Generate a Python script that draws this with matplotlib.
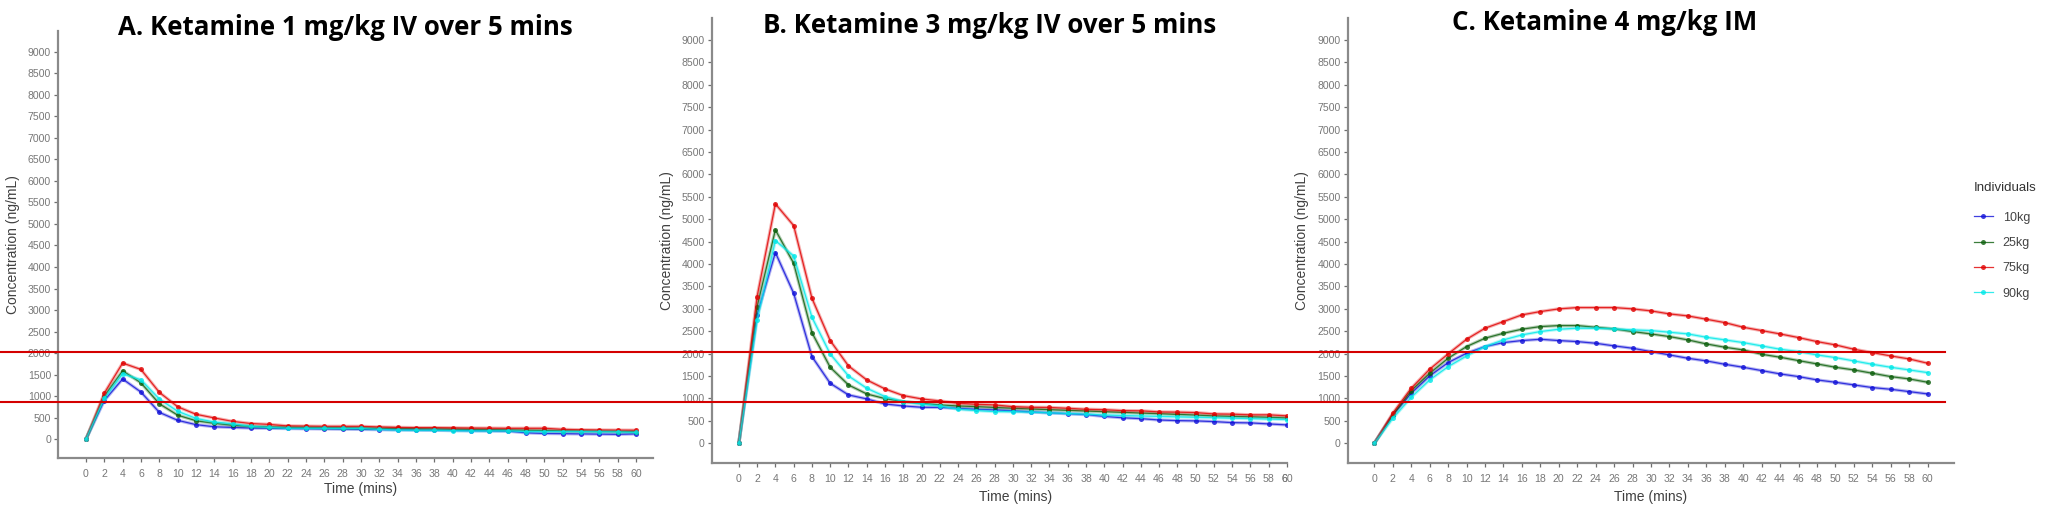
import numpy as np
import matplotlib
matplotlib.use("Agg")
import matplotlib.pyplot as plt
from matplotlib.lines import Line2D
from matplotlib.transforms import Bbox, TransformedBbox

plt.rcParams['font.family'] = ['Liberation Sans', 'DejaVu Sans']

# --- data ---
time = np.arange(0, 61, 2)
groups = ["10kg", "25kg", "75kg", "90kg"]
colours = ["#1010d8", "#0b5e0b", "#e00000", "#00e8e8"]

# A. 1 mg/kg IV
a_10 = [0, 900, 1400, 1096, 625, 440, 340, 290, 275, 260, 255, 250, 245, 240, 235, 230,
        225, 220, 215, 210, 205, 200, 195, 190, 150, 135, 130, 125, 120, 115, 125]
a_25 = [0, 1000, 1590, 1310, 825, 560, 430, 370, 325, 300, 285, 280, 275, 270, 265, 260,
        255, 250, 245, 240, 235, 230, 225, 220, 210, 205, 195, 190, 185, 180, 175]
a_75 = [0, 1070, 1770, 1620, 1090, 755, 580, 495, 415, 365, 345, 310, 305, 300, 300, 300,
        285, 275, 270, 270, 265, 260, 258, 255, 255, 255, 230, 220, 215, 212, 210]
a_90 = [0, 950, 1520, 1380, 935, 650, 485, 400, 360, 300, 275, 255, 255, 255, 250, 250,
        230, 215, 210, 210, 200, 195, 195, 195, 180, 180, 180, 178, 175, 172, 160]

# B. 3 mg/kg IV
b_10 = [0, 2865, 4256, 3348, 1935, 1339, 1079, 990, 878, 833, 804, 800, 781, 759, 745, 725,
        700, 680, 660, 640, 600, 570, 550, 520, 506, 500, 484, 461, 455, 432, 410]
b_25 = [0, 3050, 4762, 4018, 2470, 1696, 1302, 1101, 997, 930, 893, 856, 833, 818, 800, 781,
        765, 750, 735, 720, 705, 690, 675, 660, 645, 630, 610, 600, 590, 580, 565]
b_75 = [0, 3274, 5342, 4858, 3237, 2292, 1726, 1414, 1213, 1064, 990, 945, 893, 870, 856, 818,
        804, 800, 781, 759, 750, 729, 725, 700, 695, 685, 655, 650, 635, 635, 612]
b_90 = [0, 2750, 4524, 4180, 2812, 1994, 1503, 1228, 1042, 930, 878, 833, 760, 730, 707, 705,
        695, 680, 665, 650, 632, 620, 610, 600, 590, 580, 570, 560, 550, 540, 530]

# C. 4 mg/kg IM
c_10 = [0, 632, 1116, 1503, 1801, 2009, 2158, 2247, 2292, 2321, 2292, 2269, 2232, 2173, 2121, 2046,
        1972, 1897, 1838, 1763, 1696, 1622, 1548, 1488, 1414, 1362, 1302, 1243, 1205, 1153, 1101]
c_25 = [0, 632, 1176, 1563, 1897, 2158, 2344, 2455, 2545, 2604, 2626, 2626, 2589, 2552, 2493, 2440,
        2381, 2307, 2217, 2143, 2083, 1987, 1920, 1845, 1771, 1696, 1637, 1563, 1488, 1436, 1362]
c_75 = [0, 670, 1228, 1652, 1994, 2321, 2567, 2716, 2865, 2939, 2999, 3028, 3028, 3028, 2999, 2954,
        2887, 2842, 2768, 2693, 2589, 2515, 2440, 2359, 2269, 2195, 2098, 2024, 1949, 1882, 1786]
c_90 = [0, 558, 1027, 1414, 1711, 1949, 2158, 2307, 2418, 2493, 2545, 2567, 2567, 2552, 2530, 2515,
        2478, 2440, 2366, 2307, 2247, 2173, 2098, 2046, 1972, 1912, 1838, 1763, 1696, 1637, 1577]

titles = ["A. Ketamine 1 mg/kg IV over 5 mins",
          "B. Ketamine 3 mg/kg IV over 5 mins",
          "C. Ketamine 4 mg/kg IM"]
panel_data = [[a_10, a_25, a_75, a_90], [b_10, b_25, b_75, b_90], [c_10, c_25, c_75, c_90]]
thresholds = [2030, 930]   # red reference lines, in panel C units
y_ticks = np.arange(0, 9001, 500)
x_ticks = np.arange(0, 61, 2)

# --- layout (panels were pasted side by side, slightly different crops) ---
W, H = 2046, 511
fig = plt.figure(figsize=(W / 100, H / 100), dpi=100)

boxes = [(58, 653, 31, 458), (711.7, 1287, 18, 463), (1347.7, 1954, 18, 463)]
xlims = [(-3.05, 61.85), (-2.97, 59.55), (-2.89, 62.86)]
ylims = [(-435, 9480), (-440, 9490), (-440, 9490)]
title_pos = [(118, 35), (763, 33), (1452, 30)]
xlabel_top = [482, 490, 490]
ylabel_x = [13, 667, 1302]

grey = "#6e6e6e"
tick_col = "#777777"
axes = []
for i in range(3):
    l, r, t, b = boxes[i]
    ax = fig.add_axes([l / W, (H - b) / H, (r - l) / W, (b - t) / H])
    axes.append(ax)
    for g, c, vals in zip(groups, colours, panel_data[i]):
        ax.plot(time, vals, color=c, lw=2.4, alpha=0.3, solid_capstyle='round')
        ax.plot(time, vals, color=c, lw=0.9, alpha=0.8, marker='o', markersize=3.6,
                markeredgewidth=0, label=g)
    ax.set_xlim(*xlims[i])
    ax.set_ylim(*ylims[i])
    ax.set_xticks(x_ticks)
    ax.set_yticks(y_ticks)
    for s in ["top", "right"]:
        ax.spines[s].set_visible(False)
    for s in ["left", "bottom"]:
        ax.spines[s].set_color("#8a8a8a")
        ax.spines[s].set_linewidth(1.6)
    ax.tick_params(axis='both', colors=grey, length=3, width=0.9, labelsize=7.6,
                   labelcolor=tick_col)
    ax.tick_params(axis='x', pad=5)
    ax.tick_params(axis='y', pad=2)

    # axis titles
    ax.set_xlabel("Time (mins)", fontsize=10, color="#404040")
    xf = (30 - xlims[i][0]) / (xlims[i][1] - xlims[i][0])
    ax.xaxis.set_label_coords(xf, (b - xlabel_top[i]) / (b - t))
    ax.text((ylabel_x[i] - l) / (r - l), 0.5, "Concentration (ng/mL)", rotation=90,
            ha='center', va='center', fontsize=10, color="#404040", transform=ax.transAxes)

    # panel titles
    tx, ty = title_pos[i]
    ax.text((tx - l) / (r - l), (b - ty) / (b - t), titles[i], ha='left', va='baseline',
            fontsize=18.6, fontweight='bold', family=['Open Sans', 'DejaVu Sans'],
            transform=ax.transAxes, color="black")

# panel B was cropped through its last tick label
axB = axes[1]
trans, _, _ = axB.get_xaxis_text1_transform(5 + 3)
t60 = axB.text(60, 0, "60", ha='center', va='top', fontsize=7.6, color=tick_col,
               transform=trans, clip_on=True)
t60.set_clip_box(TransformedBbox(Bbox([[0, 0], [boxes[1][1] / W, 1]]), fig.transFigure))

# red reference lines drawn across the whole figure
axC = axes[2]
fig.canvas.draw()
for th in thresholds:
    x_end, y_pix = axC.transData.transform((61.9, th))
    fig.add_artist(Line2D([0, x_end / W], [y_pix / H, y_pix / H], color="#d40000", lw=1.5,
                          transform=fig.transFigure))

# legend
handles, labels = axC.get_legend_handles_labels()
leg = fig.legend(handles, labels, title="Individuals", loc='upper left',
                 bbox_to_anchor=(1974 / W, (H - 182) / H), frameon=False, fontsize=9,
                 title_fontsize=9.5, handlelength=1.5, handletextpad=0.8, labelspacing=1.07,
                 borderpad=0, borderaxespad=0, alignment='left')
leg._legend_box.sep = 12.7   # a bit more room under the legend title
for txt in leg.get_texts():
    txt.set_color("#444444")
leg.get_title().set_color("#333333")

fig.savefig("out.png", dpi=100)
